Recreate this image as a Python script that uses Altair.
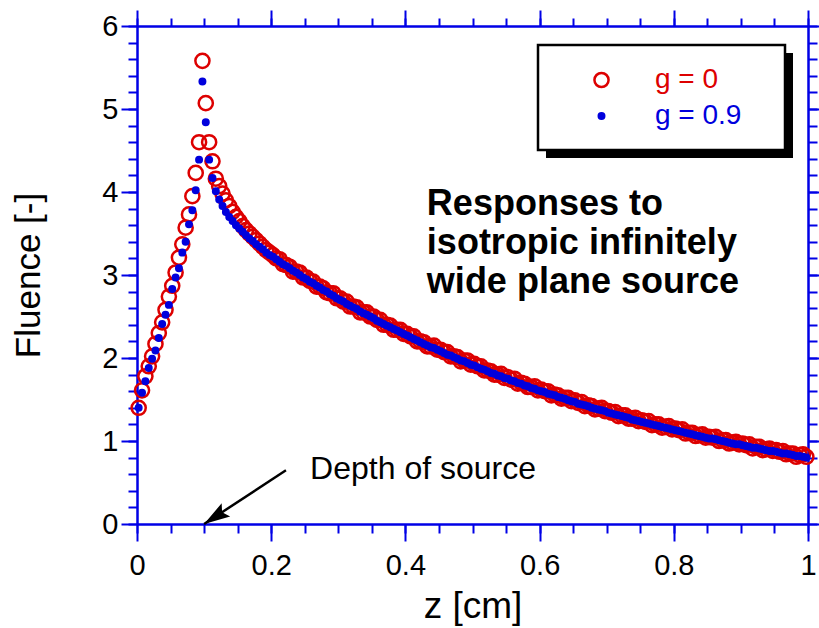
import altair as alt
import pandas as pd

# ---------------- data ----------------
series_names = ["g = 0", "g = 0.9"]
depth_bins = [round(0.0025 + 0.005 * i, 4) for i in range(200)]  # bin centres [cm]

fluence_g0 = [
    1.40, 1.61, 1.78, 1.90, 2.02, 2.17, 2.30, 2.43, 2.58, 2.74,
    2.87, 3.03, 3.21, 3.37, 3.57, 3.73, 3.95, 4.23, 4.60, 5.58,
    5.07, 4.60, 4.37, 4.16, 4.07, 3.98, 3.90, 3.83, 3.76, 3.70,
    3.65, 3.59, 3.54, 3.50, 3.46, 3.42, 3.38, 3.34, 3.30, 3.27,
    3.24, 3.20, 3.19, 3.13, 3.12, 3.10, 3.04, 3.04, 3.03, 2.97,
    2.97, 2.93, 2.92, 2.86, 2.86, 2.84, 2.79, 2.78, 2.78, 2.72,
    2.72, 2.68, 2.68, 2.62, 2.62, 2.61, 2.55, 2.55, 2.55, 2.50,
    2.50, 2.46, 2.46, 2.40, 2.40, 2.39, 2.34, 2.34, 2.34, 2.29,
    2.29, 2.26, 2.26, 2.20, 2.20, 2.19, 2.14, 2.14, 2.15, 2.10,
    2.10, 2.07, 2.07, 2.02, 2.02, 2.01, 1.96, 1.97, 1.97, 1.92,
    1.93, 1.90, 1.90, 1.85, 1.85, 1.84, 1.80, 1.80, 1.81, 1.76,
    1.77, 1.74, 1.75, 1.69, 1.70, 1.69, 1.65, 1.65, 1.66, 1.61,
    1.62, 1.60, 1.60, 1.55, 1.56, 1.55, 1.51, 1.52, 1.52, 1.48,
    1.49, 1.46, 1.47, 1.42, 1.43, 1.42, 1.38, 1.39, 1.40, 1.36,
    1.36, 1.34, 1.35, 1.30, 1.31, 1.31, 1.27, 1.27, 1.28, 1.24,
    1.25, 1.23, 1.24, 1.19, 1.20, 1.20, 1.16, 1.17, 1.18, 1.14,
    1.15, 1.13, 1.14, 1.09, 1.10, 1.10, 1.06, 1.07, 1.08, 1.04,
    1.05, 1.04, 1.05, 1.00, 1.01, 1.01, 0.97, 0.98, 0.99, 0.96,
    0.97, 0.95, 0.96, 0.91, 0.93, 0.93, 0.89, 0.90, 0.91, 0.88,
    0.89, 0.87, 0.88, 0.84, 0.85, 0.85, 0.81, 0.83, 0.84, 0.81,
]

fluence_g09 = [
    1.40, 1.58, 1.72, 1.88, 1.99, 2.09, 2.24, 2.41, 2.52, 2.64,
    2.83, 2.97, 3.08, 3.27, 3.40, 3.61, 3.78, 4.02, 4.39, 5.33,
    4.84, 4.39, 4.17, 4.01, 3.91, 3.83, 3.76, 3.70, 3.65, 3.60,
    3.56, 3.52, 3.48, 3.44, 3.41, 3.37, 3.34, 3.31, 3.27, 3.24,
    3.22, 3.19, 3.16, 3.13, 3.11, 3.08, 3.05, 3.03, 3.00, 2.97,
    2.95, 2.92, 2.90, 2.87, 2.85, 2.82, 2.80, 2.77, 2.75, 2.72,
    2.70, 2.68, 2.65, 2.63, 2.61, 2.59, 2.56, 2.54, 2.52, 2.50,
    2.48, 2.45, 2.43, 2.41, 2.39, 2.37, 2.35, 2.33, 2.31, 2.29,
    2.27, 2.25, 2.23, 2.21, 2.19, 2.17, 2.15, 2.13, 2.12, 2.10,
    2.08, 2.06, 2.04, 2.03, 2.01, 1.99, 1.97, 1.96, 1.94, 1.92,
    1.91, 1.89, 1.87, 1.86, 1.84, 1.82, 1.81, 1.79, 1.78, 1.76,
    1.75, 1.73, 1.72, 1.70, 1.69, 1.67, 1.66, 1.64, 1.63, 1.61,
    1.60, 1.59, 1.57, 1.56, 1.55, 1.53, 1.52, 1.51, 1.49, 1.48,
    1.47, 1.45, 1.44, 1.43, 1.42, 1.40, 1.39, 1.38, 1.37, 1.36,
    1.34, 1.33, 1.32, 1.31, 1.30, 1.29, 1.28, 1.26, 1.25, 1.24,
    1.23, 1.22, 1.21, 1.20, 1.19, 1.18, 1.17, 1.16, 1.15, 1.14,
    1.13, 1.12, 1.11, 1.10, 1.09, 1.08, 1.07, 1.06, 1.05, 1.04,
    1.03, 1.03, 1.02, 1.01, 1.00, 0.99, 0.98, 0.97, 0.96, 0.96,
    0.95, 0.94, 0.93, 0.92, 0.92, 0.91, 0.90, 0.89, 0.88, 0.88,
    0.87, 0.86, 0.85, 0.85, 0.84, 0.83, 0.82, 0.82, 0.81, 0.80,
]

x_major = [0, 0.2, 0.4, 0.6, 0.8, 1]
x_minor = [0, 0.05, 0.1, 0.15, 0.2, 0.25, 0.3, 0.35, 0.4, 0.45, 0.5,
           0.55, 0.6, 0.65, 0.7, 0.75, 0.8, 0.85, 0.9, 0.95, 1]
y_major = [0, 1, 2, 3, 4, 5, 6]
y_minor = [0, 0.2, 0.4, 0.6, 0.8, 1, 1.2, 1.4, 1.6, 1.8, 2, 2.2, 2.4, 2.6, 2.8,
           3, 3.2, 3.4, 3.6, 3.8, 4, 4.2, 4.4, 4.6, 4.8, 5, 5.2, 5.4, 5.6, 5.8, 6]

annotation_lines = ["Responses to", "isotropic infinitely", "wide plane source"]
annotation_pos = {"z": 0.432, "f": 3.72}
source_label = "Depth of source"
source_label_pos = {"z": 0.258, "f": 0.545}
arrow_from = {"z": 0.222, "f": 0.647}
arrow_to = {"z": 0.1, "f": 0.0}

assert len(fluence_g0) == 200 and len(fluence_g09) == 200

# ---------------- styling ----------------
RED = "#dd0000"
BLUE = "#0000dd"
AX = "#0000e6"
FONT = "Liberation Sans"
W, H = 671, 498

df = pd.DataFrame({
    "z": depth_bins + depth_bins,
    "fluence": fluence_g0 + fluence_g09,
    "series": [series_names[0]] * 200 + [series_names[1]] * 200,
})

xs = alt.Scale(domain=[0, 1], nice=False, zero=False)
ys = alt.Scale(domain=[0, 6], nice=False, zero=False)


def axis(orient, values, size, labels=False, **kw):
    return alt.Axis(orient=orient, values=values, tickSize=size, tickWidth=2,
                    tickColor=AX, domainColor=AX, domainWidth=2, grid=False,
                    labels=labels, **kw)


ax_bottom = axis("bottom", x_major, 17, labels=True, labelFont=FONT, labelFontSize=29,
                 labelColor="black", labelBaseline="alphabetic", labelPadding=33,
                 labelFlush=False, labelAlign="center", format="~g",
                 title="z [cm]", titleFont=FONT, titleFontSize=37, titleFontWeight="normal",
                 titleColor="black", titleX=W / 2, titleY=93, titleAlign="center",
                 titleBaseline="alphabetic")
ax_left = axis("left", y_major, 16, labels=True, labelFont=FONT, labelFontSize=29,
               labelColor="black", labelPadding=3, labelFlush=False, format="~g",
               title="Fluence [-]", titleFont=FONT, titleFontSize=35,
               titleFontWeight="normal", titleColor="black", titleX=-109, titleY=H / 2,
               titleAngle=-90, titleAlign="center", titleBaseline="middle")

leg = alt.Legend(orient="none", legendX=450.5, legendY=40, title=None, padding=0,
                 labelFont=FONT, labelFontSize=28, labelOffset=39.5, rowPadding=8,
                 symbolStrokeWidth=2.5, symbolType="circle",
                 labelColor=alt.ExprRef(f"datum.label == '{series_names[0]}' ? '{RED}' : '{BLUE}'"))

points = alt.Chart(df).mark_point(filled=True, shape="circle", strokeWidth=2.5, opacity=1).encode(
    x=alt.X("z:Q", scale=xs, axis=ax_bottom),
    y=alt.Y("fluence:Q", scale=ys, axis=ax_left),
    stroke=alt.Stroke("series:N", scale=alt.Scale(domain=series_names, range=[RED, BLUE]), legend=leg),
    fill=alt.Fill("series:N", scale=alt.Scale(domain=series_names, range=["transparent", BLUE]), legend=leg),
    size=alt.Size("series:N", scale=alt.Scale(domain=series_names, range=[200, 30]), legend=leg),
)

# legend frame with drop shadow
frame_df = pd.DataFrame({"k": [0]})
shadow = alt.Chart(frame_df).mark_rect(color="black").encode(
    x=alt.value(409), x2=alt.value(656), y=alt.value(27), y2=alt.value(132))
frame = alt.Chart(frame_df).mark_rect(fill="white", stroke="black", strokeWidth=2.5).encode(
    x=alt.value(401), x2=alt.value(648), y=alt.value(19), y2=alt.value(124))

arrow_df = pd.DataFrame({"z": [arrow_from["z"]], "f": [arrow_from["f"]],
                         "z2": [arrow_to["z"]], "f2": [arrow_to["f"]]})
arrow_line = alt.Chart(arrow_df).mark_rule(color="black", strokeWidth=2.5).encode(
    x=alt.X("z:Q", scale=xs, axis=axis("bottom", x_minor, 9, title=None)),
    y=alt.Y("f:Q", scale=ys, axis=axis("left", y_minor, 9, title=None)),
    x2="z2:Q", y2="f2:Q",
)
head_df = pd.DataFrame({"z": [arrow_to["z"]], "f": [arrow_to["f"]]})
arrow_head = alt.Chart(head_df).mark_point(
    shape="M0,0 L0.6,2 L0,1.65 L-0.6,2 Z", filled=True, color="black", size=676,
    angle=237, opacity=1).encode(
    x=alt.X("z:Q", scale=xs, axis=axis("top", x_major, 16, title=None)),
    y=alt.Y("f:Q", scale=ys, axis=axis("right", y_major, 16, title=None)),
)

src_df = pd.DataFrame({"z": [source_label_pos["z"]], "f": [source_label_pos["f"]], "t": [source_label]})
src_text = alt.Chart(src_df).mark_text(align="left", baseline="alphabetic", font=FONT,
                                       fontSize=32, color="black").encode(
    x=alt.X("z:Q", scale=xs, axis=axis("top", x_minor, 8, title=None)),
    y=alt.Y("f:Q", scale=ys, axis=axis("right", y_minor, 9, title=None)),
    text="t:N",
)

ann_df = pd.DataFrame({"z": [annotation_pos["z"]], "f": [annotation_pos["f"]],
                       "t": [annotation_lines]})
ann_text = alt.Chart(ann_df).mark_text(align="left", baseline="alphabetic", font=FONT,
                                       fontSize=36, fontWeight="bold", lineHeight=39,
                                       color="black").encode(
    x=alt.X("z:Q", scale=xs, axis=None),
    y=alt.Y("f:Q", scale=ys, axis=None),
    text="t",
)

chart = alt.layer(shadow, frame, points, arrow_line, arrow_head, src_text, ann_text).resolve_scale(
    x="shared", y="shared").resolve_axis(x="independent", y="independent").properties(
    width=W, height=H,
    autosize=alt.AutoSizeParams(type="none"),
    padding={"left": 137, "top": 26, "right": 11, "bottom": 104},
    background="white",
).configure_view(stroke="transparent")

chart.save("out.html", embed_options={"renderer": "svg", "actions": False})
